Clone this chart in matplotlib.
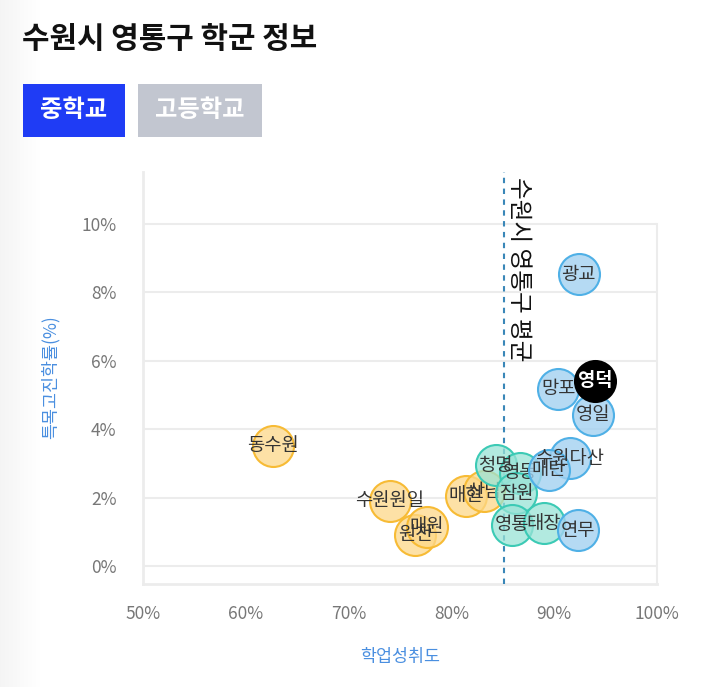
import matplotlib
matplotlib.use('Agg')
import matplotlib.pyplot as plt
from matplotlib.patches import Rectangle
import matplotlib.transforms as mtransforms
import numpy as np

plt.rcParams['font.family'] = ['Noto Sans CJK KR', 'DejaVu Sans']

# ---- data ----
schools = ['동수원', '수원원일', '원천', '매원', '매현', '산남',
           '청명', '영동', '잠원', '영통', '태장',
           '광교', '망포', '영일', '수원다산', '매탄', '연무', '영덕']
achievement = [62.6, 74.0, 76.5, 77.6, 81.4, 83.2,
               84.3, 86.7, 86.3, 85.9, 89.0,
               92.4, 90.4, 93.8, 91.5, 89.5, 92.3, 94.0]
advance_rate = [3.52, 1.91, 0.91, 1.15, 2.05, 2.18,
                2.95, 2.72, 2.13, 1.20, 1.25,
                8.53, 5.18, 4.42, 3.15, 2.81, 1.05, 5.41]
groups = ['low'] * 6 + ['mid'] * 5 + ['high'] * 6 + ['focus']
group_order = ['low', 'mid', 'high', 'focus']
district_avg = 85.1
x_ticks = [50, 60, 70, 80, 90, 100]
y_ticks = [0, 2, 4, 6, 8, 10]

styles = {
    'low':   dict(face=(0.992, 0.847, 0.533, 0.75), edge='#f7bb35', text='#333333', weight='normal'),
    'mid':   dict(face=(0.600, 0.890, 0.840, 0.75), edge='#3ccab5', text='#333333', weight='normal'),
    'high':  dict(face=(0.640, 0.820, 0.945, 0.80), edge='#4fb0e6', text='#333333', weight='normal'),
    'focus': dict(face=(0, 0, 0, 1), edge='#000000', text='#ffffff', weight='bold'),
}

W, H = 714, 687
fig = plt.figure(figsize=(W / 100, H / 100), dpi=100)
fig.patch.set_facecolor('white')

def fx(px):
    return px / W

def fy(py):
    return 1 - py / H

# subtle left shade
bg = fig.add_axes([0, 0, 40 / W, 1])
grad = np.linspace(0.96, 1.0, 64).reshape(1, -1)
bg.imshow(np.dstack([grad, grad, grad]), aspect='auto', extent=[0, 1, 0, 1])
bg.set_axis_off()

L, R, T, B = 143, 657, 172, 584
ax = fig.add_axes([fx(L), fy(B), (R - L) / W, (B - T) / H])
y0, y1 = -0.526, 11.52
ax.set_xlim(50, 100)
ax.set_ylim(y0, y1)
for s in ax.spines.values():
    s.set_visible(False)
ax.patch.set_alpha(0)

# grid and frame
gc = '#ececec'
for t in y_ticks:
    ax.plot([50, 100], [t, t], color=gc, lw=1.5, zorder=0)
ax.plot([50, 50], [y0, y1], color=gc, lw=2, zorder=0, clip_on=False)
ax.plot([50, 100], [y0, y0], color=gc, lw=2, zorder=0, clip_on=False)
ax.plot([100, 100], [y0, 10], color=gc, lw=1.5, zorder=0, clip_on=False)

ax.set_xticks(x_ticks)
ax.set_xticklabels([f'{v}%' for v in x_ticks])
ax.set_yticks(y_ticks)
ax.set_yticklabels([f'{v}%' for v in y_ticks])
ax.tick_params(axis='both', length=0, labelsize=12.5, labelcolor='#777777')
ax.tick_params(axis='x', pad=15)
ax.tick_params(axis='y', pad=19)

# district average line
ax.axvline(district_avg, color='#3a87b8', lw=1.5, dashes=(2.6, 2.6), zorder=1)
off = mtransforms.offset_copy(ax.transData, fig=fig, x=3, y=-5, units='dots')
ax.text(district_avg, y1, '수원시 영통구 평균', rotation=-90, ha='left', va='top',
        fontsize=17, color='#111111', transform=off, zorder=2)

# bubbles: each group draws its circles, then its labels on top
z = 3
for g in group_order:
    st = styles[g]
    idx = [i for i, gg in enumerate(groups) if gg == g]
    for i in idx:
        ax.scatter([achievement[i]], [advance_rate[i]], s=870, facecolors=[st['face']],
                   edgecolors=st['edge'], linewidths=1.5, zorder=z, clip_on=False)
    for i in idx:
        ax.text(achievement[i], advance_rate[i], schools[i], ha='center', va='center',
                fontsize=13.5, color=st['text'], fontweight=st['weight'], zorder=z + 1)
    z += 2

# axis titles
fig.text(fx(400), fy(657), '학업성취도', ha='center', va='center', fontsize=12.5, color='#4a8fe0')
fig.text(fx(50), fy(377), '특목고진학률(%)', ha='center', va='center', rotation=90,
         fontsize=12.5, color='#4a8fe0')

# header
fig.text(fx(22), fy(39), '수원시 영통구 학군 정보', ha='left', va='center',
         fontsize=21.5, fontweight='bold', color='#111111')
fig.patches.append(Rectangle((fx(23), fy(137)), (125 - 23) / W, (137 - 84) / H,
                             transform=fig.transFigure, facecolor='#1f3cf5', edgecolor='none'))
fig.patches.append(Rectangle((fx(138), fy(137)), (262 - 138) / W, (137 - 84) / H,
                             transform=fig.transFigure, facecolor='#c2c6d0', edgecolor='none'))
fig.text(fx(74), fy(110), '중학교', ha='center', va='center', fontsize=17.5,
         fontweight='bold', color='white')
fig.text(fx(200), fy(110), '고등학교', ha='center', va='center', fontsize=17.5,
         fontweight='bold', color='white')

fig.savefig('out.png', dpi=100, facecolor='white')
